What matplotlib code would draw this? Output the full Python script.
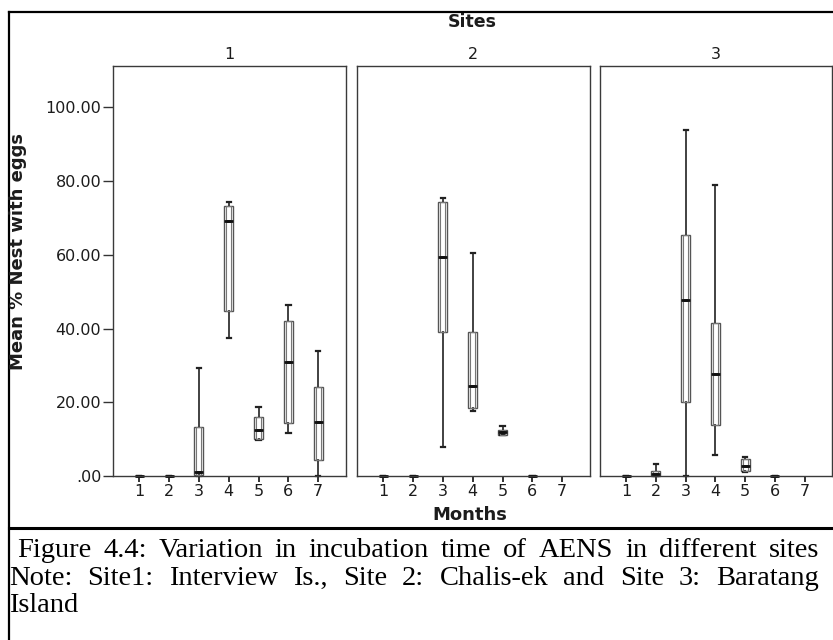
import matplotlib
matplotlib.use("Agg")
import matplotlib.pyplot as plt
from matplotlib.lines import Line2D

# ---------------- data ----------------
months = [1, 2, 3, 4, 5, 6, 7]
sites = ["1", "2", "3"]
month_labels = ["1", "2", "3", "4", "5", "6", "7"]
ytick_vals = [0, 20, 40, 60, 80, 100]
ytick_labels = [".00", "20.00", "40.00", "60.00", "80.00", "100.00"]

# per site, per month: lower whisker, Q1, median, Q3, upper whisker (None = no data)
site1_low = [0, 0, 0.0, 37.4, 9.7, 11.7, 0.0]
site1_q1 = [0, 0, 0.2, 44.7, 9.9, 14.3, 4.4]
site1_med = [0, 0, 1.0, 69.2, 12.6, 30.8, 14.7]
site1_q3 = [0, 0, 13.3, 73.2, 16.1, 42.0, 24.2]
site1_high = [0, 0, 29.4, 74.2, 18.8, 46.5, 34.0]

site2_low = [0, 0, 8.0, 17.5, 11.0, 0, None]
site2_q1 = [0, 0, 39.1, 18.5, 11.1, 0, None]
site2_med = [0, 0, 59.5, 24.5, 11.9, 0, None]
site2_q3 = [0, 0, 74.4, 39.1, 12.6, 0, None]
site2_high = [0, 0, 75.5, 60.4, 13.6, 0, None]

site3_low = [0, 0.0, 0.0, 5.8, 1.2, 0, None]
site3_q1 = [0, 0.1, 20.2, 13.8, 1.4, 0, None]
site3_med = [0, 0.6, 47.8, 27.6, 2.6, 0, None]
site3_q3 = [0, 1.4, 65.3, 41.6, 4.7, 0, None]
site3_high = [0, 3.2, 93.9, 79.0, 5.2, 0, None]

site_data = [
    (site1_low, site1_q1, site1_med, site1_q3, site1_high),
    (site2_low, site2_q1, site2_med, site2_q3, site2_high),
    (site3_low, site3_q1, site3_med, site3_q3, site3_high),
]

caption_line1 = "Figure 4.4: Variation in incubation time of AENS in different sites"
caption_line2 = "Note: Site1: Interview Is., Site 2: Chalis-ek and Site 3: Baratang"
caption_line3 = "Island"

# ---------------- figure ----------------
W, H = 833, 640
fig = plt.figure(figsize=(W / 100, H / 100), dpi=100)
fig.patch.set_facecolor("white")

def fx(px):
    return px / W

def fy(py):
    return 1 - py / H

panel_left = [113, 357, 600]
panel_right = [345.7, 589.7, 832]
top_px, bot_px = 66, 476

edge = "#3a3a3a"
txtc = "#1c1c1c"

for i, (l, r) in enumerate(zip(panel_left, panel_right)):
    ax = fig.add_axes([fx(l), fy(bot_px), fx(r - l), (bot_px - top_px) / H])
    low, q1, med, q3, high = site_data[i]
    stats, pos = [], []
    for m, a, b, c, d, e in zip(months, low, q1, med, q3, high):
        if a is None:
            continue
        stats.append(dict(whislo=a, q1=b, med=c, q3=d, whishi=e, fliers=[]))
        pos.append(m)
    # outer box outline + whiskers + caps
    ax.bxp(stats, positions=pos, widths=0.30, showfliers=False,
           patch_artist=True,
           boxprops=dict(facecolor="white", edgecolor="#555555", linewidth=1.0),
           whiskerprops=dict(color="#333333", linewidth=1.3),
           capprops=dict(color="#222222", linewidth=1.6),
           capwidths=0.14,
           medianprops=dict(color="#111111", linewidth=2.0))
    # inner outline (SPSS double-line look)
    ax.bxp(stats, positions=pos, widths=0.17, showfliers=False, showcaps=False,
           patch_artist=True,
           boxprops=dict(facecolor="none", edgecolor="#777777", linewidth=0.8),
           whiskerprops=dict(linewidth=0),
           medianprops=dict(color="#111111", linewidth=2.0))
    for art in ax.get_children():
        try:
            art.set_clip_on(False)
        except Exception:
            pass
    ax.set_xlim(0.12, 7.92)
    ax.set_ylim(0, 111.2)
    ax.set_xticks(months)
    ax.set_xticklabels(month_labels)
    ax.tick_params(axis="x", direction="out", length=4, width=1.4, color="#333333",
                   labelsize=11.5, labelcolor=txtc, pad=2)
    if i == 0:
        ax.set_yticks(ytick_vals)
        ax.set_yticklabels(ytick_labels)
        ax.tick_params(axis="y", direction="out", length=7.5, width=1.0, color="#333333",
                       labelsize=11.5, labelcolor=txtc, pad=1)
    else:
        ax.set_yticks([])
    for s in ax.spines.values():
        s.set_color(edge)
        s.set_linewidth(1.0)
    ax.set_title(sites[i], fontsize=11.5, color=txtc, pad=5)

# figure-level labels
fig.text(fx(472), fy(22), "Sites", ha="center", va="center", fontsize=12.5,
         fontweight="bold", color=txtc)
fig.text(fx(470), fy(515), "Months", ha="center", va="center", fontsize=13,
         fontweight="bold", color=txtc)
fig.text(fx(18), fy(252), "Mean % Nest with eggs", ha="center", va="center",
         rotation=90, fontsize=13, fontweight="bold", color=txtc)

# frame lines
lw = 1.6
fig.add_artist(Line2D([fx(8.5), 1], [fy(11.5), fy(11.5)], color="black", lw=lw,
                      transform=fig.transFigure))
fig.add_artist(Line2D([fx(8.5), fx(8.5)], [fy(11.5), 0], color="black", lw=lw,
                      transform=fig.transFigure))
fig.add_artist(Line2D([fx(8.5), 1], [fy(527.5), fy(527.5)], color="black", lw=2.2,
                      transform=fig.transFigure))

# caption, justified
renderer = fig.canvas.get_renderer()
cap_font = dict(family="Liberation Serif", fontsize=20.5, color="black", va="baseline")

def justify(line, y, x0, x1):
    words = line.split(" ")
    texts = [fig.text(0, fy(y), w, ha="left", **cap_font) for w in words]
    widths = [t.get_window_extent(renderer).width for t in texts]
    gap = (x1 - x0 - sum(widths)) / (len(words) - 1)
    x = x0
    for t, w in zip(texts, widths):
        t.set_x(fx(x))
        x += w + gap

justify(caption_line1, 557, 17, 819)
justify(caption_line2, 585, 9, 819)
fig.text(fx(9), fy(612), caption_line3, ha="left", **cap_font)

fig.savefig("out.png", dpi=100, facecolor="white")
